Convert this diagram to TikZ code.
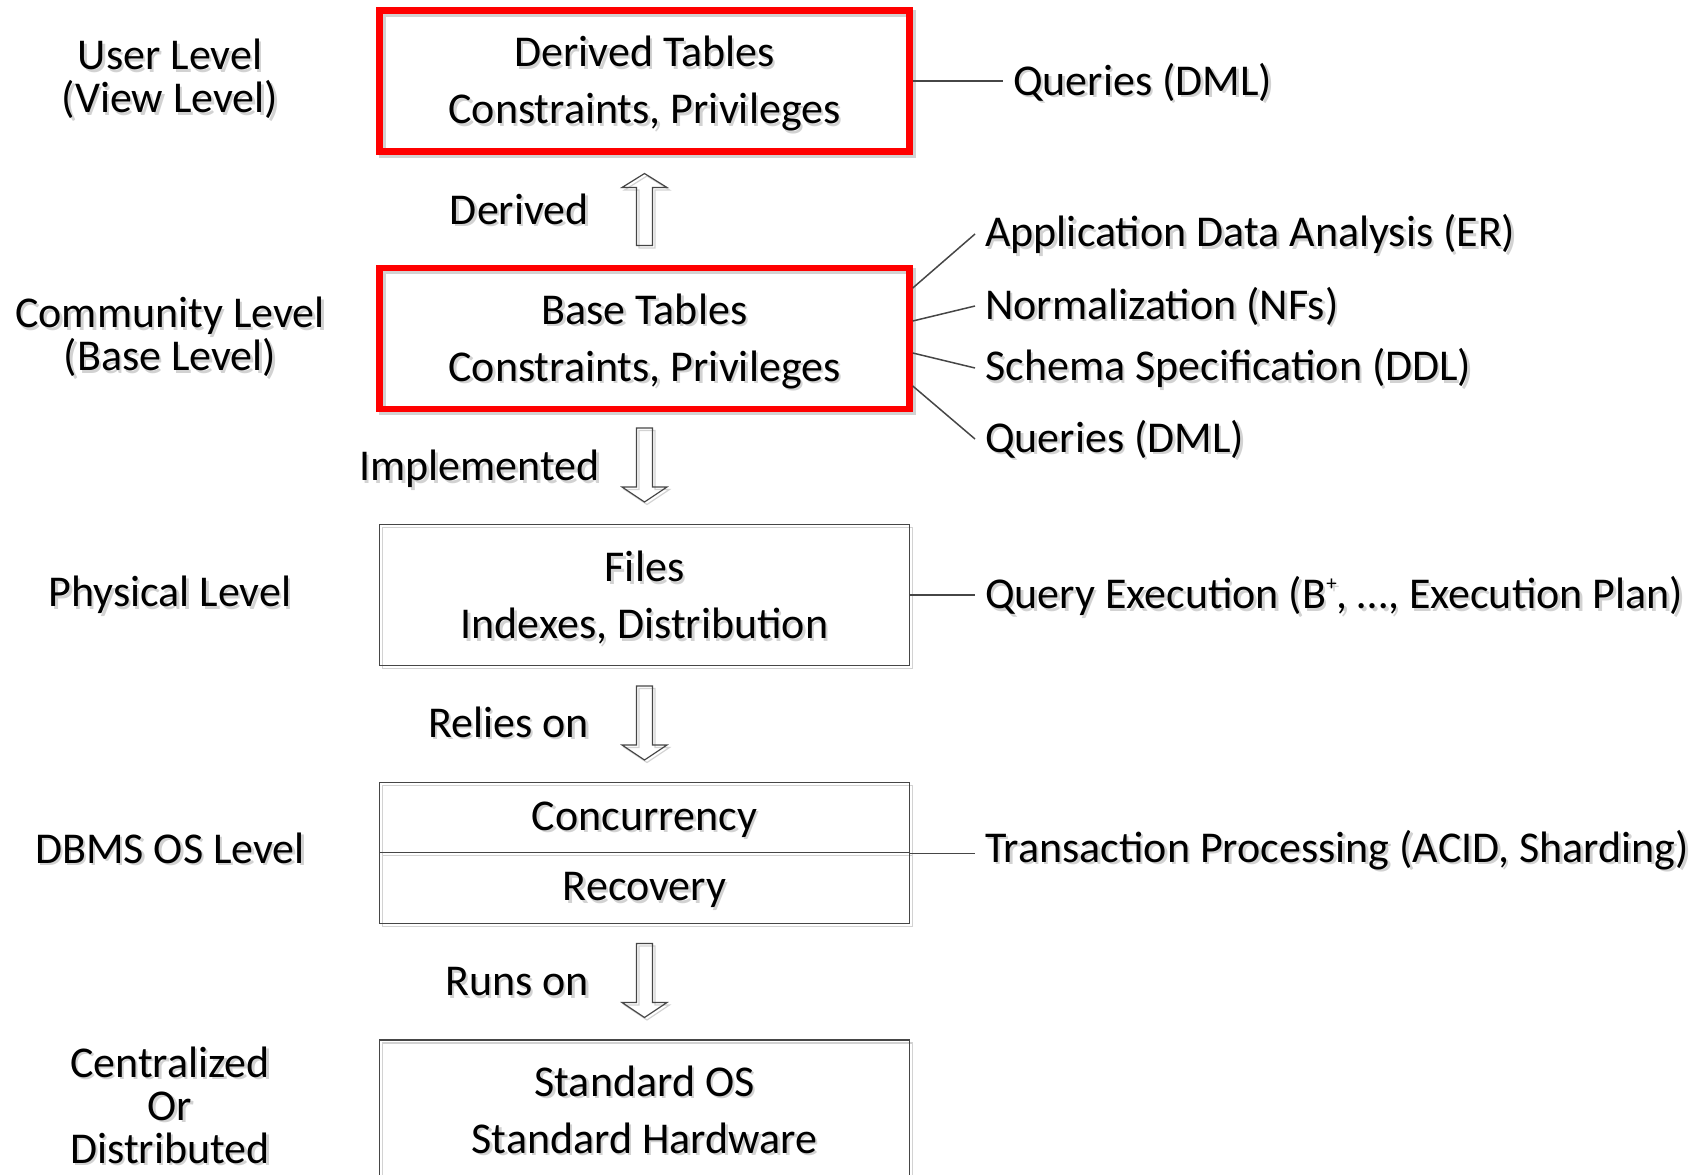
\documentclass[tikz,border=0pt]{standalone}
\usepackage{fontspec}
\setmainfont{Carlito}
\usetikzlibrary{shadows}

\definecolor{layerred}{RGB}{255,0,0}
\definecolor{edgegray}{RGB}{70,70,70}
\definecolor{shadegray}{RGB}{210,210,210}

% text with a soft grey drop shadow behind it; \textdrop lowers the
% printed line without changing the size of its box
\newcommand{\textdrop}{0pt}
\newcommand{\shtxt}[1]{\leavevmode\raisebox{-\textdrop}[\height][\depth]{\rlap{\kern2.5pt\raisebox{-2.5pt}[0pt][0pt]{\color{shadegray}#1}}#1}}
\newcommand{\tightlines}{\lineskiplimit=-100pt\relax}
\newcommand{\plussup}{\raisebox{18pt}{\fontsize{21}{21}\selectfont +}}

\begin{document}
\begin{tikzpicture}[
  x=1pt, y=-1pt,
  every node/.style={inner sep=0pt},
  layerbox/.style={rectangle, minimum width=530pt, minimum height=141pt,
    align=center, font=\fontsize{44}{57}\selectfont,
    draw=edgegray, line width=1.3pt,
    execute at begin node={\def\textdrop{3pt}},
    drop shadow={shadow xshift=3pt, shadow yshift=-3pt, draw=shadegray, fill=none, opacity=1}},
  redbox/.style={layerbox, draw=layerred, line width=6.5pt},
  halfbox/.style={layerbox, minimum height=70.5pt, execute at begin node={\def\textdrop{2pt}}},
  lvl/.style={align=center, font=\fontsize{44}{43}\selectfont\tightlines},
  tag/.style={font=\fontsize{44}{53}\selectfont, anchor=west, inner xsep=10pt},
  verb/.style={font=\fontsize{44}{53}\selectfont, anchor=east},
  link/.style={draw=edgegray, line width=1.5pt},
  hollow/.style={draw=edgegray, line width=1.2pt, line join=miter},
  hollowshade/.style={draw=shadegray, line width=1.2pt, line join=miter},
  pics/uparrow/.style={code={
    \draw[hollowshade, shift={(2.5,2.5)}] (-8,36) -- (-8,-22) -- (-22.5,-22) -- (0,-36) -- (22.5,-22) -- (8,-22) -- (8,36) -- cycle;
    \draw[hollow] (-8,36) -- (-8,-22) -- (-22.5,-22) -- (0,-36) -- (22.5,-22) -- (8,-22) -- (8,36) -- cycle;
  }},
  pics/downarrow/.style={code={
    \draw[hollowshade, shift={(2.5,2.5)}] (-8,-37) -- (-8,22) -- (-22.5,22) -- (0,37) -- (22.5,22) -- (8,22) -- (8,-37) -- cycle;
    \draw[hollow] (-8,-37) -- (-8,22) -- (-22.5,22) -- (0,37) -- (22.5,22) -- (8,22) -- (8,-37) -- cycle;
  }}
]
\useasboundingbox (0,0) rectangle (1706,1175);
\clip (0,0) rectangle (1706,1175);

% ---- level names on the left
\node[lvl] (lvuser) at (170,79) {\shtxt{User Level}\\\shtxt{(View Level)}};
\node[lvl] (lvcomm) at (170,337) {\shtxt{Community Level}\\\shtxt{(Base Level)}};
\node[lvl] (lvphys) at (170,595) {\shtxt{Physical Level}};
\node[lvl] (lvos)   at (170,848) {\shtxt{DBMS OS Level}};
\node[lvl] (lvdist) at (170,1105) {\shtxt{Centralized}\\\shtxt{Or}\\\shtxt{Distributed}};

% ---- the layer stack
\node[redbox] (derived) at (644.5,81) {\shtxt{Derived Tables}\\\shtxt{Constraints, Privileges}};
\node[redbox] (base)    at (644.5,338.5) {\shtxt{Base Tables}\\\shtxt{Constraints, Privileges}};
\node[layerbox] (files) at (644.5,595) {\shtxt{Files}\\\shtxt{Indexes, Distribution}};
\node[halfbox] (conc)   at (644.5,817.5) {\shtxt{Concurrency}};
\node[halfbox] (rec)    at (644.5,888) {\shtxt{Recovery}};
\node[layerbox, execute at begin node={\def\textdrop{-1pt}}] (hw) at (644.5,1110.5)
  {\shtxt{Standard OS}\\\shtxt{Standard Hardware}};

% ---- relations between layers
\pic at (644.5,209.5) {uparrow};
\pic at (644.5,465) {downarrow};
\pic at (644.5,723) {downarrow};
\pic at (644.5,980.5) {downarrow};
\node[verb] (vderived) at (589,209) {\shtxt{Derived}};
\node[verb] (vimpl)    at (600,469) {\shtxt{Implemented}};
\node[verb] (vrelies)  at (589,722) {\shtxt{Relies on}};
\node[verb] (vruns)    at (589,982) {\shtxt{Runs on}};

% ---- topics attached to each layer
\node[tag] (tq1)   at (1003,82)  {\shtxt{Queries (DML)}};
\node[tag] (tada)  at (975,234)  {\shtxt{Application Data Analysis (ER)}};
\node[tag] (tnf)   at (975,306)  {\shtxt{Normalization (NFs)}};
\node[tag] (tddl)  at (975,368)  {\shtxt{Schema Specification (DDL)}};
\node[tag] (tq2)   at (975,439)  {\shtxt{Queries (DML)}};
\node[tag] (tqe)   at (975,596)  {\shtxt{Query Execution (B\plussup, …, Execution Plan)}};
\node[tag] (ttp)   at (975,850)  {\shtxt{Transaction Processing (ACID, Sharding)}};

\draw[link] (derived.east) -- (derived.east -| tq1.west);
\draw[link] ([yshift=50.5pt]base.east)  -- (tada.west);
\draw[link] ([yshift=17.5pt]base.east)  -- (tnf.west);
\draw[link] ([yshift=-14.5pt]base.east) -- (tddl.west);
\draw[link] ([yshift=-47.5pt]base.east) -- (tq2.west);
\draw[link] (files.east) -- (files.east -| tqe.west);
\draw[link] (conc.south east) -- (conc.south east -| ttp.west);
\end{tikzpicture}
\end{document}
